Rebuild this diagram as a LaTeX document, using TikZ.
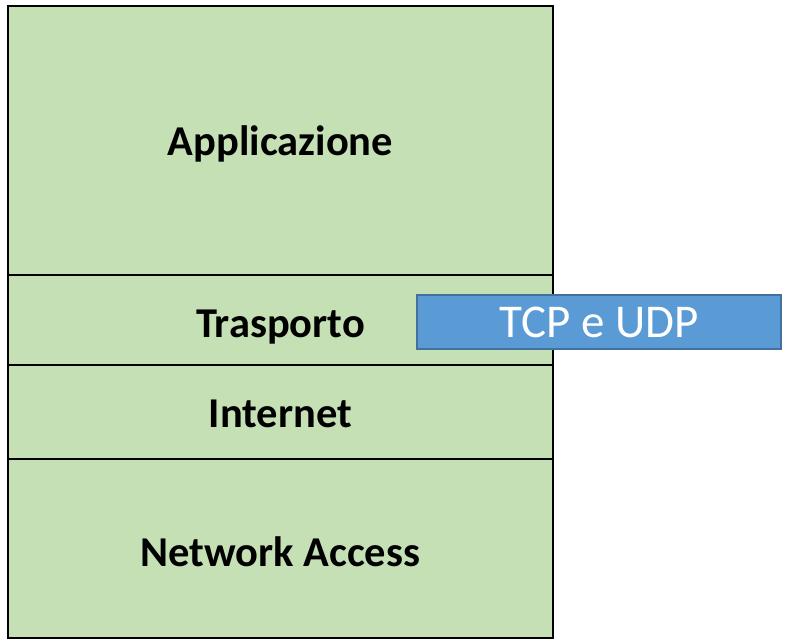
\documentclass[tikz,border=0pt]{standalone}
\usepackage{fontspec}
\setmainfont{Carlito}
\definecolor{layergreen}{HTML}{C5E0B4}
\definecolor{protoblue}{HTML}{5B9BD5}
\definecolor{protoedge}{HTML}{41719C}
\begin{document}
\begin{tikzpicture}[x=1pt,y=1pt,
  layer/.style={draw=black, line width=2pt, fill=layergreen, inner sep=0pt,
    minimum width=545pt},
  layertext/.style={font=\fontsize{42.5}{48}\selectfont\bfseries},
  proto/.style={draw=protoedge, line width=1.2pt, fill=protoblue, inner sep=0pt,
    minimum width=364pt, minimum height=54pt, text=white,
    font=\fontsize{47}{52}\selectfont}]
  \useasboundingbox (0,0) rectangle (787,642);
  % protocol stack, top to bottom
  \node[layer, minimum height=271pt] (app) at (280.5,500.5) {};
  \node[layer, minimum height=90pt]  (tra) at (280.5,322) {};
  \node[layer, minimum height=94pt]  (int) at (280.5,230) {};
  \node[layer, minimum height=179pt] (net) at (280.5,93.5) {};
  \node[layertext] (appl) at ([yshift=-2pt]app.center) {Applicazione};
  \node[layertext] (tral) at ([yshift=-7pt]tra.center) {Trasporto};
  \node[layertext] (intl) at ([yshift=-2pt]int.center) {Internet};
  \node[layertext] (netl) at ([yshift=-3pt]net.center) {Network Access};
  % transport protocols
  \node[proto] (tcp) at (599,320) {TCP e UDP};
\end{tikzpicture}
\end{document}
